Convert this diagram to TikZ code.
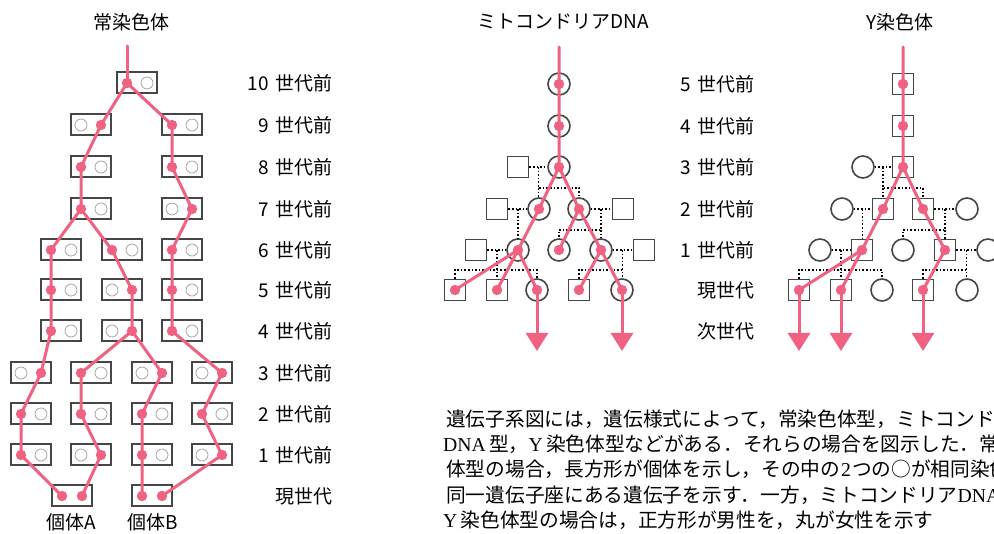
\documentclass[tikz,border=0pt]{standalone}
\usepackage{fontspec}
\setmainfont{Noto Sans CJK JP}
\newfontfamily\latserif{Liberation Serif}
\usetikzlibrary{arrows.meta,calc}
\definecolor{gpink}{RGB}{240,98,130}
\definecolor{edgegray}{RGB}{70,70,70}
\newcommand{\gsp}{\hspace{0.38em}}
\tikzset{
 abox/.style={draw=edgegray,line width=2pt,fill=white,minimum width=40pt,minimum height=21pt,inner sep=0pt},
 slot/.style={circle,draw=gray!75,line width=0.7pt,minimum size=12pt,inner sep=0pt},
 gene/.style={gpink,line width=3pt,line cap=round,line join=round},
 genearrow/.style={gpink,line width=3pt,-{Triangle[width=22pt,length=18pt]}},
 male/.style={draw=edgegray,line width=1.6pt,fill=white,minimum size=21pt,inner sep=0pt},
 female/.style={circle,draw=edgegray,line width=1.6pt,fill=white,minimum size=22pt,inner sep=0pt},
 kin/.style={black,line width=1.5pt,dash pattern=on 1.6pt off 2pt},
 hdr/.style={font=\fontsize{19}{22}\selectfont,inner sep=0pt},
 genlab/.style={anchor=east,font=\fontsize{19}{22}\selectfont,inner sep=0pt},
 body/.style={anchor=west,font=\fontsize{19.7}{22}\selectfont,inner sep=0pt},
}
\begin{document}
\begin{tikzpicture}[x=1pt,y=-1pt]
\useasboundingbox (0,0) rectangle (994,534);
\clip (0,0) rectangle (994,534);
\fill[white] (0,0) rectangle (994,534);

% ---------- headers ----------
\node[hdr] (h1) at (131,22) {常染色体};
\node[hdr] (h2) at (563,22) {ミトコンドリアDNA};
\node[hdr] (h3) at (900,22) {Y染色体};

% ---------- autosomal ----------
\foreach \n/\x/\y/\s in {t/137/83/-1, 9a/91/125/1, 9b/182/125/-1, 8a/91/167/-1, 8b/182/167/-1,
  7a/91/209/-1, 7b/182/209/1, 6a/61/250/-1, 6b/122/250/-1, 6c/182/250/-1,
  5a/61/290/-1, 5b/122/290/1, 5c/182/290/-1, 4a/61/331/-1, 4b/122/331/1, 4c/182/331/-1,
  3a/31/373/1, 3b/91/373/-1, 3c/152/373/1, 3d/212/373/1,
  2a/31/414/-1, 2b/91/414/-1, 2c/152/414/-1, 2d/212/414/-1,
  1a/31/455/-1, 1b/91/455/1, 1c/152/455/-1, 1d/212/455/1}
{
 \node[abox] (b\n) at (\x,\y) {};
 \node[slot] (e\n) at ({\x-10*\s},\y) {};
 \coordinate (d\n) at ({\x+10*\s},\y);
}
\node[abox] (bA) at (72,496) {};
\coordinate (dAl) at (62,496);
\coordinate (dAr) at (82,496);
\node[abox] (bB) at (152,496) {};
\coordinate (dBl) at (142,496);
\coordinate (dBr) at (162,496);
\node[hdr] (lA) at (71,522) {個体A};
\node[hdr] (lB) at (153,522) {個体B};

\coordinate (at) at (127,46);
\draw[gene] (at) -- (dt);
\draw[gene] (d9a) -- (dt) -- (d9b);
\draw[gene] (d9a) -- (d8a) -- (d7a) -- (d6a) -- (d5a) -- (d4a) -- (d3a) -- (d2a) -- (d1a) -- (dAl);
\draw[gene] (d7a) -- (d6b) -- (d5b) -- (d4b) -- (d3b) -- (d2b) -- (d1b) -- (dAr);
\draw[gene] (d4b) -- (d3c) -- (d2c) -- (d1c) -- (dBl);
\draw[gene] (d9b) -- (d8b) -- (d7b) -- (d6c) -- (d5c) -- (d4c) -- (d3d) -- (d2d) -- (d1d) -- (dBr);
\foreach \n in {t,9a,9b,8a,8b,7a,7b,6a,6b,6c,5a,5b,5c,4a,4b,4c,3a,3b,3c,3d,2a,2b,2c,2d,1a,1b,1c,1d,Al,Ar,Bl,Br}
  \fill[gpink] (d\n) circle (5.2pt);

\foreach \n/\y/\t in {10/83/10\gsp 世代前, 9/125/9\gsp 世代前, 8/167/8\gsp 世代前, 7/209/7\gsp 世代前, 6/250/6\gsp 世代前,
  5/290/5\gsp 世代前, 4/331/4\gsp 世代前, 3/373/3\gsp 世代前, 2/414/2\gsp 世代前, 1/455/1\gsp 世代前, 0/496/現世代}
  \node[genlab] (ga\n) at (333,\y) {\t};

\foreach \n/\y/\t in {5/84/5\gsp 世代前, 4/126/4\gsp 世代前, 3/167/3\gsp 世代前, 2/209/2\gsp 世代前, 1/250/1\gsp 世代前,
  0/290/現世代, n/331/次世代}
  \node[genlab] (gm\n) at (755,\y) {\t};

% ---------- mitochondrial DNA ----------
\node[female] (m5) at (559,84) {};
\node[female] (m4) at (559,126) {};
\node[female] (m3) at (559,167) {};
\node[male] (m3s) at (518,167) {};
\node[male] (m2s1) at (497,209) {};
\node[female] (m2c1) at (539,209) {};
\node[female] (m2c2) at (579,209) {};
\node[male] (m2s2) at (623,209) {};
\node[male] (m1s1) at (476,250) {};
\node[female] (m1c1) at (518,250) {};
\node[female] (m1c2) at (559,250) {};
\node[female] (m1c3) at (601,250) {};
\node[male] (m1s2) at (644,250) {};
\node[male] (m0s1) at (455,290) {};
\node[male] (m0s2) at (497,290) {};
\node[female] (m0c1) at (537,290) {};
\node[male] (m0s3) at (579,290) {};
\node[female] (m0c2) at (622,290) {};

\draw[kin] (m3s) -- (m3);
\coordinate (mj3) at ($(m3s)!0.5!(m3)$);
\coordinate (mk3) at ($(mj3)+(0,21)$);
\draw[kin] (mj3) -- (mk3) -| (m2c2.north);
\draw[kin] (mk3) -- (mk3 |- m2c1.north);
\draw[kin] (m2s1) -- (m2c1);
\coordinate (mj2a) at ($(m2s1)!0.5!(m2c1)$);
\draw[kin] (mj2a) -- (mj2a |- m1c1.north);
\draw[kin] (m2c2) -- (m2s2);
\coordinate (mj2b) at ($(m2c2)!0.5!(m2s2)$);
\coordinate (mk2b) at ($(mj2b)+(0,21)$);
\draw[kin] (mj2b) -- (mk2b) -| (m1c2.north);
\draw[kin] (mk2b) -- (mk2b |- m1c3.north);
\draw[kin] (m1s1) -- (m1c1);
\coordinate (mj1a) at ($(m1s1)!0.5!(m1c1)$);
\coordinate (mk1a) at ($(mj1a)+(0,20)$);
\draw[kin] (mj1a) -- (mj1a |- m0s2.north);
\draw[kin] (m0s1.north) |- (mk1a) -| (m0c1.north);
\draw[kin] (m1c3) -- (m1s2);
\coordinate (mj1b) at ($(m1c3)!0.5!(m1s2)$);
\coordinate (mk1b) at ($(mj1b)+(0,20)$);
\draw[kin] (mj1b) -- (mj1b |- m0c2.north);
\draw[kin] (m0s3.north) |- (mk1b);

\coordinate (mt) at (559,47);
\coordinate (ma1) at (537,351);
\coordinate (ma2) at (622,351);
\draw[gene] (mt) -- (m5.center) -- (m4.center) -- (m3.center) -- (m2c1.center) -- (m1c1.center) -- (m0s1.center);
\draw[gene] (m3.center) -- (m2c2.center) -- (m1c3.center) -- (m0s3.center);
\draw[gene] (m2c2.center) -- (m1c2.center);
\draw[gene] (m1c1.center) -- (m0s2.center);
\draw[gene] (m1c1.center) -- (m0c1.center);
\draw[gene] (m1c3.center) -- (m0c2.center);
\draw[genearrow] (m0c1.center) -- (ma1);
\draw[genearrow] (m0c2.center) -- (ma2);
\foreach \n in {m5,m4,m3,m2c1,m2c2,m1c1,m1c2,m1c3,m0s1,m0s2,m0c1,m0s3,m0c2}
  \fill[gpink] (\n) circle (5.2pt);

% ---------- Y chromosome ----------
\node[male] (y5) at (903,84) {};
\node[male] (y4) at (903,126) {};
\node[male] (y3) at (903,167) {};
\node[female] (y3c) at (863,167) {};
\node[female] (y2c1) at (842,209) {};
\node[male] (y2s1) at (883,209) {};
\node[male] (y2s2) at (923,209) {};
\node[female] (y2c2) at (967,209) {};
\node[female] (y1c1) at (820,250) {};
\node[male] (y1s1) at (862,250) {};
\node[female] (y1c2) at (903,250) {};
\node[male] (y1s2) at (945,250) {};
\node[female] (y1c3) at (988,250) {};
\node[male] (y0s1) at (799,290) {};
\node[male] (y0s2) at (841,290) {};
\node[female] (y0c1) at (882,290) {};
\node[male] (y0s3) at (923,290) {};
\node[female] (y0c2) at (967,290) {};

\draw[kin] (y3c) -- (y3);
\coordinate (yj3) at ($(y3c)!0.5!(y3)$);
\coordinate (yk3) at ($(yj3)+(0,21)$);
\draw[kin] (yj3) -- (yk3) -| (y2s2.north);
\draw[kin] (yk3) -- (yk3 |- y2s1.north);
\draw[kin] (y2c1) -- (y2s1);
\coordinate (yj2a) at ($(y2c1)!0.5!(y2s1)$);
\draw[kin] (yj2a) -- (yj2a |- y1s1.north);
\draw[kin] (y2s2) -- (y2c2);
\coordinate (yj2b) at ($(y2s2)!0.5!(y2c2)$);
\coordinate (yk2b) at ($(yj2b)+(0,21)$);
\draw[kin] (yj2b) -- (yk2b) -| (y1c2.north);
\draw[kin] (yk2b) -- (yk2b |- y1s2.north);
\draw[kin] (y1c1) -- (y1s1);
\coordinate (yj1a) at ($(y1c1)!0.5!(y1s1)$);
\coordinate (yk1a) at ($(yj1a)+(0,20)$);
\draw[kin] (yj1a) -- (yj1a |- y0s2.north);
\draw[kin] (y0s1.north) |- (yk1a) -| (y0c1.north);
\draw[kin] (y1s2) -- (y1c3);
\coordinate (yj1b) at ($(y1s2)!0.5!(y1c3)$);
\coordinate (yk1b) at ($(yj1b)+(0,20)$);
\draw[kin] (yj1b) -- (yj1b |- y0c2.north);
\draw[kin] (y0s3.north) |- (yk1b);

\coordinate (yt) at (903,47);
\coordinate (ya1) at (799,351);
\coordinate (ya2) at (841,351);
\coordinate (ya3) at (923,351);
\draw[gene] (yt) -- (y5.center) -- (y4.center) -- (y3.center) -- (y2s1.center) -- (y1s1.center) -- (y0s1.center);
\draw[gene] (y3.center) -- (y2s2.center) -- (y1s2.center) -- (y0s3.center);
\draw[gene] (y1s1.center) -- (y0s2.center);
\draw[genearrow] (y0s1.center) -- (ya1);
\draw[genearrow] (y0s2.center) -- (ya2);
\draw[genearrow] (y0s3.center) -- (ya3);
\foreach \n in {y5,y4,y3,y2s1,y2s2,y1s1,y1s2,y0s1,y0s2,y0s3}
  \fill[gpink] (\n) circle (5.2pt);

% ---------- caption ----------
\node[body] (p1) at (446,419) {遺伝子系図には，遺伝様式によって，常染色体型，ミトコンド};
\node[body] (p2) at (443,444) {{\latserif DNA}\,型，{\latserif Y}\,染色体型などがある．それらの場合を図示した．常};
\node[body] (p3) at (446,469) {体型の場合，長方形が個体を示し，その中の\hspace{0.05em}{\latserif 2}\hspace{0.05em}つの○が相同染色};
\node[body] (p4) at (446,495) {同一遺伝子座にある遺伝子を示す．一方，ミトコンドリア{\latserif DNA}};
\node[body] (p5) at (443,520) {{\latserif Y}\,染色体型の場合は，正方形が男性を，丸が女性を示す};
\end{tikzpicture}
\end{document}
